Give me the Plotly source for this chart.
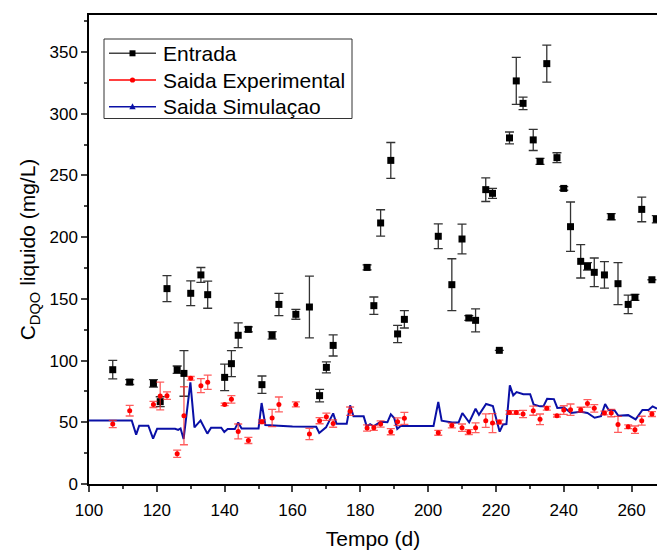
import plotly.graph_objects as go

# Entrada (influent)
ent_x = [107, 112, 119, 121, 123, 126, 128, 130, 133, 135, 140, 142, 144, 147, 151, 154, 156, 161, 165, 168,
         170, 172, 182, 184, 186, 189, 191, 193, 203, 207, 210, 212, 214, 217, 219, 221, 224, 226, 228, 231,
         233, 235, 238, 240, 242, 245, 247, 249, 252, 254, 256, 259, 261, 263, 266, 267.3]
ent_y = [92.6, 82.6, 81.5, 66.7, 158.3, 92.6, 89.6, 154.5, 169.4, 153.4, 86.4, 97.5, 120.5, 125.3, 80.5, 120.4,
         145.5, 137.5, 143.4, 71.6, 94.5, 112.3, 175.5, 144.5, 211.5, 262.2, 121.6, 133.4, 200.7, 161.5, 198.5,
         134.5, 132.6, 238.5, 235.5, 108.3, 280.4, 326.6, 308.4, 278.8, 261.4, 340.6, 264.4, 239.5, 208.5, 180.4,
         176.3, 171.5, 169.4, 216.6, 162.3, 145.5, 151.2, 222.5, 165.5, 214.5]
ent_err = [7.5, 2, 3, 4, 10.5, 3, 18.5, 10, 6, 11, 10.7, 10.5, 10, 2, 7, 3, 9, 4, 25, 5,
           4.5, 8.6, 2, 7, 10.7, 14.5, 7, 7, 10, 21, 12, 2, 9.3, 9.6, 4, 0, 4.8, 19, 5, 8.6,
           2.5, 15, 4, 1.5, 20, 13.5, 3, 11.6, 10.7, 2.5, 17, 7.5, 2.5, 10, 0, 3]

# Saida Experimental (effluent, measured)
exp_x = [107, 112, 119, 121, 123, 126, 128, 130, 133, 135, 140, 142, 144, 147, 151, 154, 156, 161, 165, 168,
         170, 172, 177, 182, 184, 186, 189, 191, 193, 203, 207, 210, 212, 214, 217, 219, 221, 224, 226, 228,
         231, 233, 235, 238, 240, 242, 245, 247, 249, 252, 254, 256, 259, 261, 263, 266]
exp_y = [48.6, 59.4, 64.5, 71.3, 71.6, 24.5, 55.3, 85.6, 79.7, 82.4, 64.5, 68.6, 42.6, 35.3, 50.5, 53.5,
         64.5, 64.5, 40.5, 51.3, 54.5, 49.0, 59.0, 45.4, 45.5, 48.6, 42.4, 50.5, 53.2, 41.5, 47.4, 45.6,
         42.1, 45.6, 51.3, 49.4, 50.2, 58.0, 58.0, 56.7, 59.4, 52.4, 61.3, 55.3, 59.9, 60.2, 60.2, 65.3,
         61.3, 57.5, 57.5, 48.3, 46.4, 44.0, 51.3, 56.7]
exp_err = [3, 4.3, 2.5, 11.3, 3, 3, 23.5, 1.5, 5.6, 5.8, 1, 3, 6, 2.5, 1.5, 7,
           6, 2, 4.6, 2.5, 3, 3, 3.4, 2.5, 2, 2.5, 2.5, 3, 4.9, 2, 2, 3,
           2, 4, 5.5, 7.7, 1.5, 1.5, 1.5, 3, 3.7, 4.3, 1.5, 1, 3.5, 4.6, 2, 3,
           3, 1.5, 3, 6.5, 1.5, 3, 3.6, 2]

# Saida Simulacao (effluent, simulated)
sim_x = [100, 112.6, 113.9, 114.8, 117.5, 118.9, 120.1, 125.4, 126.3, 127.0, 127.9, 129.9, 131.1, 132.9,
         134.9, 136.0, 139.0, 139.9, 140.9, 143.0, 144.0, 145.0, 150.0, 150.9, 152.0, 160.0, 167.0, 167.9,
         169.9, 172.0, 173.0, 176.0, 177.0, 178.0, 181.0, 181.9, 182.9, 183.9, 186.0, 188.0, 189.0, 190.0,
         190.9, 191.9, 201.6, 203.0, 204.0, 207.1, 209.0, 210.1, 212.1, 214.0, 215.0, 217.1, 219.1, 221.1,
         222.1, 223.1, 224.1, 225.1, 226.1, 228.1, 230.1, 231.1, 233.0, 234.0, 235.1, 237.1, 238.1, 240.1,
         242.1, 245.0, 247.0, 249.1, 251.0, 252.2, 253.2, 255.0, 256.1, 259.0, 261.2, 263.2, 265.0, 266.2,
         267.5]
sim_y = [51.5, 51.5, 40.0, 47.2, 47.2, 36.7, 44.8, 44.8, 43.8, 45.0, 36.5, 82.4, 45.9, 51.5,
         40.8, 45.6, 45.6, 42.1, 44.5, 44.5, 49.9, 45.0, 45.0, 65.6, 47.8, 46.5, 46.3, 41.3,
         45.9, 57.2, 48.8, 48.8, 63.7, 54.8, 54.8, 46.7, 48.5, 46.7, 50.5, 50.0, 56.4, 53.5,
         44.6, 47.0, 47.0, 66.4, 51.3, 49.9, 49.9, 57.5, 49.9, 61.0, 56.0, 64.8, 63.2, 42.4,
         48.3, 48.6, 79.9, 71.8, 74.5, 72.8, 72.8, 64.5, 62.9, 62.9, 69.1, 68.8, 61.6, 62.0,
         57.5, 58.6, 57.5, 53.7, 55.0, 64.8, 60.2, 59.6, 55.3, 55.8, 52.3, 60.0, 60.0, 62.9,
         61.0]

x_ticks = [100, 120, 140, 160, 180, 200, 220, 240, 260]
y_ticks = [0, 50, 100, 150, 200, 250, 300, 350]
legend_names = ["Entrada", "Saida Experimental", "Saida Simulaçao"]

FONT = "Liberation Sans, Arial, sans-serif"
BLUE = "#0a10a6"
RED = "#ff0000"

fig = go.Figure()

fig.add_trace(go.Scatter(
    x=sim_x, y=sim_y, mode="lines", line=dict(color=BLUE, width=2),
    name=legend_names[2], showlegend=False, hoverinfo="skip"))

fig.add_trace(go.Scatter(
    x=ent_x, y=ent_y, mode="markers", name=legend_names[0],
    marker=dict(symbol="square", size=7, color="black"),
    error_y=dict(type="data", array=ent_err, visible=True, color="#333333", thickness=1.3, width=4.5),
    showlegend=False))

fig.add_trace(go.Scatter(
    x=exp_x, y=exp_y, mode="markers", name=legend_names[1],
    marker=dict(symbol="circle", size=5, color=RED),
    error_y=dict(type="data", array=exp_err, visible=True, color="rgba(255,40,40,0.75)", thickness=1.3, width=4),
    showlegend=False))

# ---- legend box drawn in paper coordinates (line + symbol, as in the original) ----
L, T, W, H = 89, 15, 568, 469


def px(x):
    return (x - L) / W


def py(y):
    return (T + H - y) / H


shapes = [dict(type="rect", xref="paper", yref="paper", x0=px(104), x1=px(352), y0=py(39), y1=py(118.5),
               line=dict(color="#333333", width=1), fillcolor="white", layer="above")]
rows = [53.3, 80, 106.7]
colors = ["#444444", RED, BLUE]
annotations = []
for name, yy, c in zip(legend_names, rows, colors):
    shapes.append(dict(type="line", xref="paper", yref="paper", x0=px(109), x1=px(156), y0=py(yy), y1=py(yy),
                       line=dict(color=c, width=1.6), layer="above"))
    annotations.append(dict(xref="paper", yref="paper", x=px(161), y=py(yy), text=name, showarrow=False,
                            xanchor="left", yanchor="middle", font=dict(size=21, family=FONT, color="black")))
cx = 132.5
# square
shapes.append(dict(type="rect", xref="paper", yref="paper", x0=px(cx - 3), x1=px(cx + 3),
                   y0=py(rows[0] - 3), y1=py(rows[0] + 3), fillcolor="black", line=dict(width=0), layer="above"))
# circle
shapes.append(dict(type="circle", xref="paper", yref="paper", x0=px(cx - 2.6), x1=px(cx + 2.6),
                   y0=py(rows[1] - 2.6), y1=py(rows[1] + 2.6), fillcolor=RED, line=dict(width=0), layer="above"))
# triangle
r = rows[2]
shapes.append(dict(type="path", xref="paper", yref="paper",
                   path=f"M {px(cx - 3.2)} {py(r + 2.5)} L {px(cx + 3.2)} {py(r + 2.5)} L {px(cx)} {py(r - 3.5)} Z",
                   fillcolor=BLUE, line=dict(width=0), layer="above"))

fig.update_layout(
    width=657, height=551,
    margin=dict(l=L, r=0, t=T, b=551 - T - H),
    paper_bgcolor="white", plot_bgcolor="white",
    font=dict(family=FONT, color="black", size=17),
    showlegend=False,
    shapes=shapes, annotations=annotations,
    xaxis=dict(range=[100, 267.5], tickvals=x_ticks, ticks="outside", ticklen=6, tickwidth=1.5,
               showline=True, linecolor="black", linewidth=1.5, mirror=True, showgrid=False, zeroline=False,
               minor=dict(ticks="outside", ticklen=3.5, tickwidth=1.5, dtick=10, tick0=100, showgrid=False),
               tickfont=dict(size=17), ticklabelstandoff=4,
               title=dict(text="Tempo (d)", font=dict(size=21), standoff=12)),
    yaxis=dict(range=[0, 380], tickvals=y_ticks, ticks="outside", ticklen=6, tickwidth=1.5,
               showline=True, linecolor="black", linewidth=1.5, showgrid=False, zeroline=False,
               minor=dict(ticks="outside", ticklen=3.5, tickwidth=1.5, dtick=25, tick0=0, showgrid=False),
               tickfont=dict(size=17),
               title=dict(text="C<sub>DQO</sub> liquido (mg/L)", font=dict(size=21), standoff=8)),
)

fig.write_html("out.html")
